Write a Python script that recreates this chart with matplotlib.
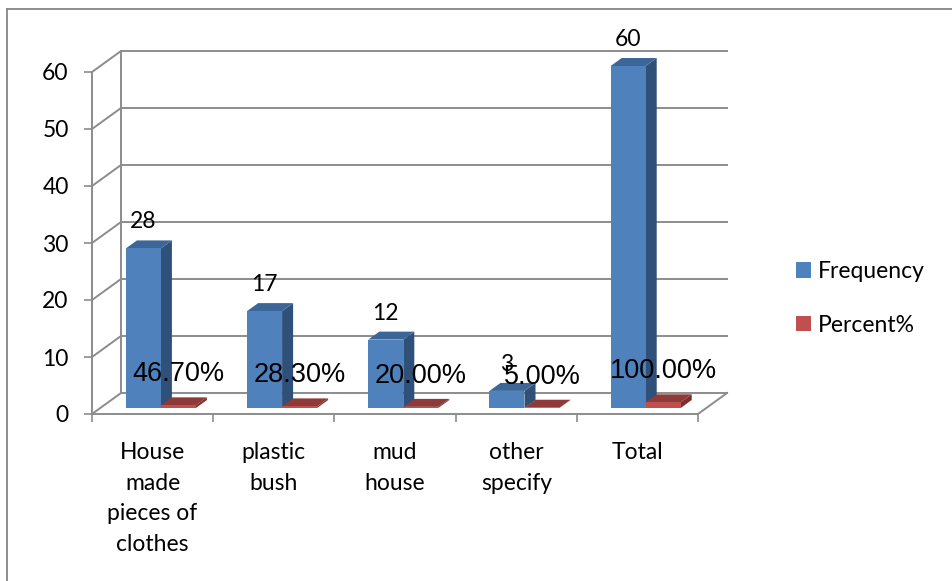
import matplotlib
matplotlib.use('Agg')
import matplotlib.pyplot as plt
from matplotlib.patches import Patch
import matplotlib.lines as mlines

categories = ["House\nmade\npieces of\nclothes", "plastic\nbush", "mud\nhouse", "other\nspecify", "Total"]
frequency = [28, 17, 12, 3, 60]
percent = [0.467, 0.283, 0.200, 0.050, 1.000]
percent_labels = ["46.70%", "28.30%", "20.00%", "5.00%", "100.00%"]
y_ticks = [0, 10, 20, 30, 40, 50, 60]
series_names = ["Frequency", "Percent%"]

plt.rcParams['font.family'] = ['Lato', 'DejaVu Sans']

W, H = 953, 581
fig = plt.figure(figsize=(W / 100, H / 100), dpi=100)
fig.patch.set_facecolor('white')
ax = fig.add_axes([92 / W, (H - 414) / H, (698 - 92) / W, (414 - 72) / H])
ax.set_facecolor('none')
n = len(categories)
ax.set_xlim(0, n)
ax.set_ylim(0, max(y_ticks))

grid = '#8c8c8c'
# depth vector in data units
px_x = (698 - 92) / n
px_y = (414 - 72) / max(y_ticks)
DX = 29 / px_x
DY = 21 / px_y

# walls / gridlines
for v in y_ticks:
    ax.plot([0, DX, n + DX], [v, v + DY, v + DY], color=grid, lw=1.4, clip_on=False,
            solid_joinstyle='miter', zorder=1)
ax.plot([DX, DX], [DY, max(y_ticks) + DY], color=grid, lw=1.4, clip_on=False, zorder=1)
ax.plot([n, n + DX], [0, DY], color=grid, lw=1.4, clip_on=False, zorder=1)

for s in ['top', 'right']:
    ax.spines[s].set_visible(False)
for s in ['left', 'bottom']:
    ax.spines[s].set_color(grid)
    ax.spines[s].set_linewidth(1.4)

ax.set_yticks(y_ticks)
ax.set_yticklabels([str(v) for v in y_ticks])
ax.tick_params(axis='y', direction='out', length=5.8, width=1.2, color=grid,
               labelsize=16.5, pad=11)
ax.set_xticks(range(n + 1))
ax.set_xticklabels([''] * (n + 1))
ax.tick_params(axis='x', which='major', direction='out', length=5.8, width=1.2, color=grid)
ax.set_xticks([i + 0.5 for i in range(n)], minor=True)
ax.set_xticklabels(categories, minor=True, fontsize=16.5, linespacing=1.58)
ax.tick_params(axis='x', which='minor', length=0, pad=20)

F = 6 / 21      # bar front depth fraction
G = 0.38        # bar depth fraction
off = 25.6 / px_x
w = 35 / px_x

blue = dict(front='#4F81BD', top='#3C6697', side='#2F5079')
red = dict(front='#C0504D', top='#8E3A38', side='#7A302E')


def bar3d(x0, h, c):
    xb = x0 + F * DX
    yb = F * DY
    gx, gy = G * DX, G * DY
    ax.fill([xb + w, xb + w + gx, xb + w + gx, xb + w], [yb, yb + gy, yb + h + gy, yb + h],
            color=c['side'], lw=0, clip_on=False, zorder=3)
    ax.fill([xb, xb + w, xb + w + gx, xb + gx], [yb + h, yb + h, yb + h + gy, yb + h + gy],
            color=c['top'], lw=0, clip_on=False, zorder=3)
    ax.fill([xb, xb + w, xb + w, xb], [yb, yb, yb + h, yb + h],
            color=c['front'], lw=0, clip_on=False, zorder=3)


for i in range(n):
    bar3d(i + off, frequency[i], blue)
    bar3d(i + off + w, percent[i], red)

for i in range(n):
    ax.annotate(str(frequency[i]), xy=(i + off + F * DX + w / 2, frequency[i] + F * DY),
                xytext=(0, 20), textcoords='offset pixels', ha='center', va='baseline',
                fontsize=16.5, color='black', zorder=6, annotation_clip=False)
for i in range(n):
    ax.annotate(percent_labels[i], xy=(i + off + w + F * DX + w / 2, percent[i] + F * DY),
                xytext=(0, 24), textcoords='offset pixels', ha='center', va='baseline',
                fontsize=19.5, family=['Liberation Sans', 'DejaVu Sans'], color='black',
                zorder=6, annotation_clip=False)

handles = [Patch(facecolor=blue['front'], edgecolor='none'),
           Patch(facecolor=red['front'], edgecolor='none')]
fig.legend(handles, series_names, loc='upper left', bbox_to_anchor=(796 / W, 1 - 261 / H),
           frameon=False, fontsize=16.5, handlelength=0.65, handleheight=0.65,
           handletextpad=0.3, labelspacing=1.42, borderpad=0, borderaxespad=0)

fig.add_artist(mlines.Line2D([7 / W, 1], [1 - 9 / H, 1 - 9 / H], transform=fig.transFigure,
                             color='#868686', lw=1.3))
fig.add_artist(mlines.Line2D([7 / W, 7 / W], [0, 1 - 9 / H], transform=fig.transFigure,
                             color='#868686', lw=1.3))

fig.savefig('out.png', dpi=100)
